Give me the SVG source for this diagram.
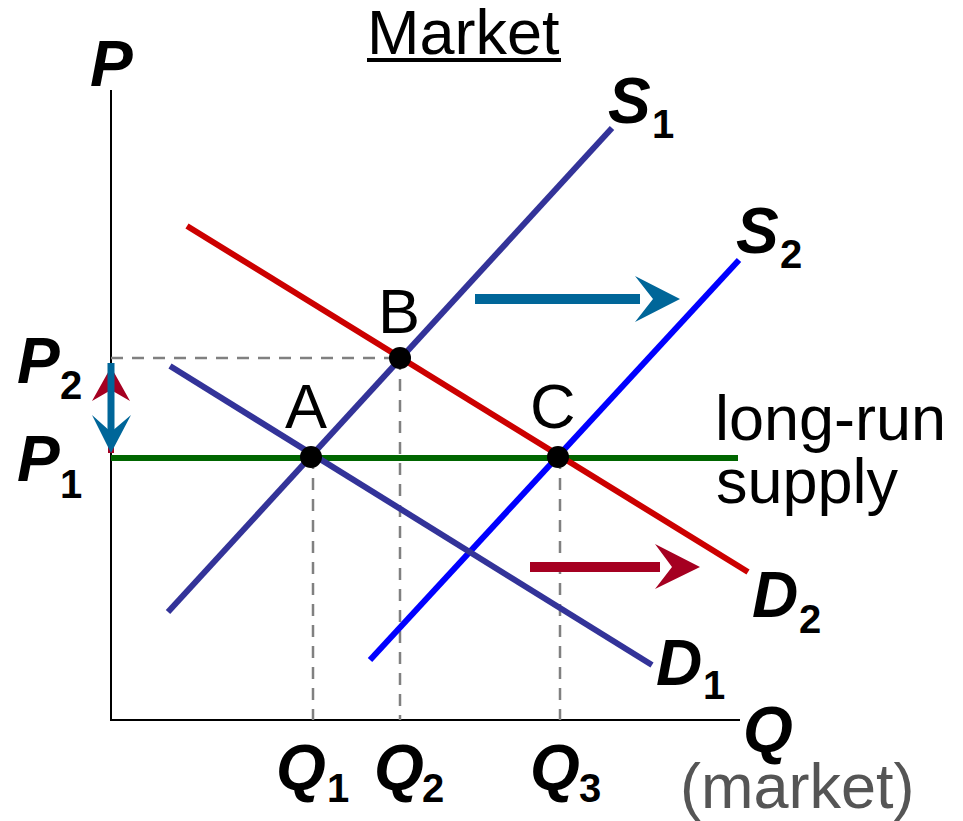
<svg xmlns="http://www.w3.org/2000/svg" width="963" height="821" viewBox="0 0 963 821">
<style>
.lbl{font-family:"Liberation Sans",Arial,sans-serif;fill:#000}
.it{font-weight:bold;font-style:italic;font-size:64px}
.sub{font-weight:bold;font-size:40px}
.pl{font-size:63px}
.dash{stroke:#808080;stroke-width:2.5;stroke-dasharray:12 9;fill:none}
.curve{stroke-width:6;fill:none}
</style>
<rect width="963" height="821" fill="#fff"/>
<g id="axes" stroke="#000" stroke-width="2" fill="none">
<line x1="111" y1="90" x2="111" y2="721"/>
<line x1="110" y1="720" x2="740" y2="720"/>
</g>
<g id="guides">
<line class="dash" x1="111" y1="358" x2="400" y2="358"/>
<line class="dash" x1="400" y1="358" x2="400" y2="720"/>
<line class="dash" x1="313" y1="457" x2="313" y2="720"/>
<line class="dash" x1="560" y1="457" x2="560" y2="720"/>
</g>
<g id="connectors">
<line id="lrs" class="curve" x1="111" y1="458" x2="738" y2="458" stroke="#006600" stroke-width="5"/>
<line id="S1" class="curve" x1="168" y1="612" x2="612" y2="128" stroke="#333399"/>
<line id="S2" class="curve" x1="370" y1="660" x2="739" y2="260" stroke="#0000ff"/>
<line id="D1" class="curve" x1="170" y1="366" x2="652" y2="665" stroke="#333399"/>
<line id="D2" class="curve" x1="187" y1="226" x2="748" y2="572" stroke="#cc0000"/>
<g id="arrowS">
<line x1="475" y1="299" x2="640" y2="299" stroke="#006699" stroke-width="10"/>
<polygon points="635,276 680,299 635,322 653,299" fill="#006699"/>
</g>
<g id="arrowD">
<line x1="530" y1="567" x2="660" y2="567" stroke="#a50021" stroke-width="10"/>
<polygon points="655,544 700,567 655,589 672,567" fill="#a50021"/>
</g>
<g id="arrowP">
<line x1="111" y1="453" x2="111" y2="388" stroke="#a50021" stroke-width="6"/>
<polygon points="111,367 130,401 111,390 92,401" fill="#a50021"/>
<line x1="111" y1="363" x2="111" y2="432" stroke="#006699" stroke-width="7"/>
<polygon points="111,453 131,415 111,432 92,415" fill="#006699"/>
</g>
</g>
<g id="pointA"><circle cx="311" cy="457" r="11" fill="#000"/><text class="lbl pl" x="285" y="428">A</text></g>
<g id="pointB"><circle cx="400" cy="358" r="11" fill="#000"/><text class="lbl pl" x="378" y="333">B</text></g>
<g id="pointC"><circle cx="558" cy="457" r="11" fill="#000"/><text class="lbl pl" x="530" y="428">C</text></g>
<g id="labels">
<text class="lbl pl" x="367" y="54">Market</text>
<rect x="367" y="58" width="194" height="4" fill="#000"/>
<text class="lbl it" x="90" y="86">P</text>
<text class="lbl" x="17" y="383"><tspan class="it">P</tspan><tspan class="sub" x="60" y="399">2</tspan></text>
<text class="lbl" x="17" y="481"><tspan class="it">P</tspan><tspan class="sub" x="60" y="498">1</tspan></text>
<text class="lbl" x="276" y="790"><tspan class="it">Q</tspan><tspan class="sub" x="327" y="802">1</tspan></text>
<text class="lbl" x="374" y="790"><tspan class="it">Q</tspan><tspan class="sub" x="422" y="802">2</tspan></text>
<text class="lbl" x="530" y="790"><tspan class="it">Q</tspan><tspan class="sub" x="579" y="802">3</tspan></text>
<text class="lbl it" x="743" y="752">Q</text>
<text class="lbl pl" x="680" y="808" style="fill:#555">(market)</text>
<text class="lbl" x="608" y="123"><tspan class="it">S</tspan><tspan class="sub" x="652" y="138">1</tspan></text>
<text class="lbl" x="736" y="253"><tspan class="it">S</tspan><tspan class="sub" x="780" y="268">2</tspan></text>
<text class="lbl" x="752" y="617"><tspan class="it">D</tspan><tspan class="sub" x="799" y="633">2</tspan></text>
<text class="lbl" x="656" y="685"><tspan class="it">D</tspan><tspan class="sub" x="703" y="699">1</tspan></text>
<text class="lbl pl" x="715" y="440">long-run</text>
<text class="lbl pl" x="716" y="503">supply</text>
</g>
</svg>
